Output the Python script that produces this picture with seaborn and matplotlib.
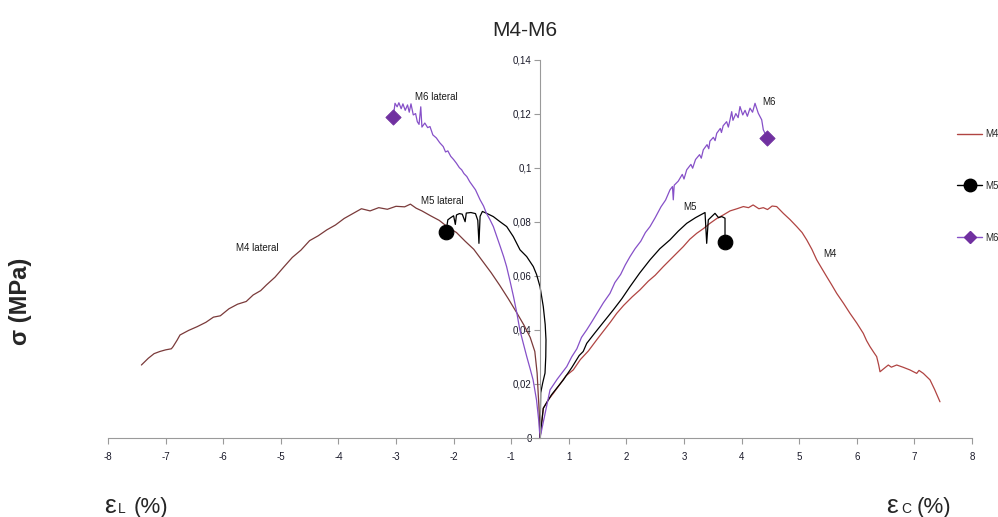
import matplotlib
matplotlib.use("Agg")
import matplotlib.pyplot as plt
from matplotlib.lines import Line2D
import seaborn as sns
import pandas as pd

sns.set_theme(style="white")
plt.rcParams['font.family'] = ['Liberation Sans', 'DejaVu Sans']

# ---------------- data (x in axis units, sigma in MPa) ----------------
m4_lat_x = [-6.92, -6.80, -6.70, -6.60, -6.50, -6.40, -6.37, -6.30, -6.25, -6.10, -5.95, -5.80, -5.67, -5.55,
            -5.40, -5.25, -5.10, -4.98, -4.85, -4.75, -4.60, -4.45, -4.30, -4.15, -4.00, -3.85, -3.70, -3.55,
            -3.40, -3.25, -3.10, -2.95, -2.80, -2.65, -2.50, -2.35, -2.25, -2.15, -2.05, -1.90, -1.75, -1.60,
            -1.45, -1.30, -1.15, -1.00, -0.85, -0.70, -0.55, -0.40, -0.28, -0.17, -0.09, -0.05, -0.02, 0.0]
m4_lat_y = [0.0270, 0.0295, 0.0312, 0.0320, 0.0326, 0.0330, 0.0338, 0.0362, 0.0381, 0.0398, 0.0412, 0.0428,
            0.0447, 0.0452, 0.0478, 0.0495, 0.0505, 0.0529, 0.0545, 0.0566, 0.0595, 0.0632, 0.0668, 0.0695,
            0.0730, 0.0748, 0.0770, 0.0788, 0.0812, 0.0830, 0.0848, 0.0840, 0.0852, 0.0846, 0.0857, 0.0855,
            0.0865, 0.0850, 0.0840, 0.0822, 0.0805, 0.0780, 0.0760, 0.0728, 0.0698, 0.0655, 0.0612, 0.0565,
            0.0515, 0.0462, 0.0418, 0.0372, 0.0320, 0.0240, 0.0120, 0.0]

m5_lat_x = [-1.632, -1.60, -1.55, -1.50, -1.47, -1.45, -1.40, -1.35, -1.30, -1.28, -1.20, -1.12, -1.08, -1.06,
            -1.04, -1.00, -0.926, -0.811, -0.694, -0.578, -0.464, -0.347, -0.231, -0.116, -0.06, 0.0, 0.057,
            0.09, 0.104, 0.10, 0.087, 0.047, 0.012, 0.0]
m5_lat_y = [0.0761, 0.0807, 0.0815, 0.0822, 0.0790, 0.0825, 0.0830, 0.0828, 0.0800, 0.0832, 0.0834, 0.0830,
            0.0805, 0.0720, 0.0820, 0.0838, 0.0831, 0.0819, 0.0800, 0.0782, 0.0745, 0.0696, 0.0671, 0.0634,
            0.0605, 0.0560, 0.0486, 0.0420, 0.0363, 0.0300, 0.0240, 0.0204, 0.0167, 0.0]

m6_lat_x = [-2.547, -2.517, -2.48, -2.45, -2.41, -2.38, -2.34, -2.30, -2.27, -2.24, -2.20, -2.16, -2.13, -2.10,
            -2.07, -2.05, -2.00, -1.95, -1.91, -1.86, -1.80, -1.74, -1.68, -1.64, -1.60, -1.55, -1.50, -1.45,
            -1.40, -1.36, -1.32, -1.27, -1.22, -1.16, -1.12, -1.04, -0.98, -0.93, -0.87, -0.81, -0.75, -0.69,
            -0.63, -0.58, -0.52, -0.46, -0.40, -0.35, -0.29, -0.23, -0.17, -0.12, -0.06, -0.02, 0.0]
m6_lat_y = [0.1187, 0.1238, 0.1225, 0.1240, 0.1218, 0.1236, 0.1212, 0.1232, 0.1205, 0.1236, 0.1195, 0.1200,
            0.1170, 0.1160, 0.1225, 0.1150, 0.1165, 0.1148, 0.1152, 0.1121, 0.1110, 0.1092, 0.1078, 0.1058,
            0.1062, 0.1042, 0.1030, 0.1016, 0.1000, 0.0992, 0.0978, 0.0967, 0.0948, 0.0930, 0.0918, 0.0881,
            0.0858, 0.0831, 0.0808, 0.0782, 0.0745, 0.0708, 0.0670, 0.0634, 0.0580, 0.0523, 0.0460, 0.0400,
            0.0350, 0.0301, 0.0255, 0.0215, 0.0140, 0.0060, 0.0]

m4_x = [0.0, 0.057, 0.14, 0.231, 0.35, 0.45, 0.578, 0.70, 0.84, 0.984, 1.10, 1.22, 1.332, 1.45, 1.60, 1.736,
        1.88, 2.00, 2.141, 2.30, 2.488, 2.60, 2.72, 2.84, 2.951, 3.07, 3.182, 3.30, 3.42, 3.53, 3.62, 3.70,
        3.80, 3.877, 3.95, 4.03, 4.109, 4.16, 4.224, 4.34, 4.457, 4.55, 4.63, 4.72, 4.804, 4.89, 4.977, 5.06,
        5.151, 5.27, 5.382, 5.50, 5.613, 5.67, 5.729, 5.80, 5.845, 5.88, 5.903, 5.96, 6.047, 6.10, 6.193,
        6.30, 6.42, 6.54, 6.58, 6.655, 6.771, 6.85, 6.944]
m4_y = [0.0, 0.0110, 0.0140, 0.0165, 0.0200, 0.0230, 0.0252, 0.0290, 0.0322, 0.0363, 0.0395, 0.0428, 0.0461,
        0.0490, 0.0522, 0.0548, 0.0580, 0.0602, 0.0634, 0.0668, 0.0708, 0.0735, 0.0757, 0.0775, 0.0794,
        0.0812, 0.0825, 0.0840, 0.0848, 0.0856, 0.0852, 0.0862, 0.0848, 0.0852, 0.0845, 0.0858, 0.0856,
        0.0845, 0.0831, 0.0808, 0.0782, 0.0760, 0.0733, 0.0698, 0.0659, 0.0628, 0.0597, 0.0568, 0.0535,
        0.0498, 0.0461, 0.0425, 0.0387, 0.0360, 0.0338, 0.0315, 0.0301, 0.0270, 0.0245, 0.0255, 0.0270,
        0.0262, 0.0270, 0.0262, 0.0252, 0.0239, 0.0250, 0.0239, 0.0215, 0.0180, 0.0134]

m5_x = [0.0, 0.057, 0.20, 0.405, 0.55, 0.68, 0.75, 0.811, 0.95, 1.10, 1.273, 1.42, 1.563, 1.73, 1.91, 2.08,
        2.257, 2.40, 2.547, 2.70, 2.865, 2.894, 2.922, 3.038, 3.10, 3.155, 3.212, 3.212]
m5_y = [0.0, 0.0110, 0.0160, 0.0215, 0.0260, 0.0305, 0.0320, 0.0350, 0.0388, 0.0428, 0.0474, 0.0515, 0.0560,
        0.0610, 0.0659, 0.0700, 0.0733, 0.0765, 0.0794, 0.0815, 0.0834, 0.0720, 0.0807, 0.0831, 0.0815,
        0.0819, 0.0813, 0.0726]

m6_pts = [(0.0, 0.0), (0.174, 0.0178), (0.30, 0.0218), (0.464, 0.0264), (0.55, 0.0300), (0.64, 0.0330),
          (0.72, 0.0372), (0.811, 0.0400), (0.90, 0.0430), (1.00, 0.0465), (1.10, 0.0500), (1.215, 0.0535),
          (1.30, 0.0575), (1.40, 0.0605), (1.48, 0.0640), (1.563, 0.0671), (1.65, 0.0700), (1.75, 0.0728),
          (1.83, 0.0760), (1.91, 0.0782), (2.00, 0.0815), (2.10, 0.0855), (2.18, 0.0880), (2.257, 0.0918),
          (2.30, 0.0930), (2.314, 0.0881), (2.33, 0.0935), (2.40, 0.0950), (2.47, 0.0975), (2.50, 0.0958),
          (2.547, 0.0992), (2.62, 0.1012), (2.65, 0.0998), (2.70, 0.1030), (2.77, 0.1048), (2.80, 0.1035),
          (2.835, 0.1066), (2.90, 0.1085), (2.93, 0.1070), (2.95, 0.1098), (3.01, 0.1112), (3.04, 0.1100),
          (3.068, 0.1127), (3.13, 0.1145), (3.15, 0.1130), (3.18, 0.1155), (3.24, 0.1170), (3.27, 0.1150),
          (3.299, 0.1177), (3.328, 0.1207), (3.35, 0.1175), (3.40, 0.1200), (3.44, 0.1185), (3.472, 0.1226),
          (3.52, 0.1195), (3.56, 0.1212), (3.60, 0.1190), (3.646, 0.1220), (3.69, 0.1205), (3.733, 0.1238),
          (3.790, 0.1201), (3.849, 0.1177), (3.877, 0.1140), (3.946, 0.1109)]
m6_x = [p[0] for p in m6_pts]
m6_y = [p[1] for p in m6_pts]

x_tick_pos = [-7.5, -6.5, -5.5, -4.5, -3.5, -2.5, -1.5, -0.5, 0.5, 1.5, 2.5, 3.5, 4.5, 5.5, 6.5, 7.5]
x_tick_labels = ['-8', '-7', '-6', '-5', '-4', '-3', '-2', '-1', '1', '2', '3', '4', '5', '6', '7', '8']
y_tick_pos = [0, 0.02, 0.04, 0.06, 0.08, 0.10, 0.12, 0.14]
y_tick_labels = ['0', '0,02', '0,04', '0,06', '0,08', '0,1', '0,12', '0,14']

labels = [("M6 lateral", -2.17, 0.1262), ("M5 lateral", -2.07, 0.0877), ("M4 lateral", -5.27, 0.0703),
          ("M6", 3.85, 0.1243), ("M5", 2.49, 0.0853), ("M4", 4.92, 0.0681)]

c_m4 = '#B04442'
c_m4_lat = '#7A3A3A'
c_m5 = '#000000'
c_m6 = '#8650C8'
c_m6_mk = '#7030A0'

# ---------------- figure ----------------
fig = plt.figure(figsize=(9.98, 5.17), dpi=100)
ax = fig.add_axes([108 / 998, 1 - 438 / 517, 864 / 998, (438 - 59.5) / 517])


def line(x, y, color):
    df = pd.DataFrame({"x": x, "y": y})
    sns.lineplot(data=df, x="x", y="y", sort=False, estimator=None, color=color, lw=0.9, ax=ax)


line(m4_lat_x, m4_lat_y, c_m4_lat)
line(m5_lat_x, m5_lat_y, c_m5)
line(m6_lat_x, m6_lat_y, c_m6)
line(m4_x, m4_y, c_m4)
line(m5_x, m5_y, c_m5)
line(m6_x, m6_y, c_m6)

# end markers
sns.scatterplot(x=[m5_lat_x[0], m5_x[-1]], y=[m5_lat_y[0], m5_y[-1]], marker='o', s=110,
                color=c_m5, edgecolor=c_m5, ax=ax, zorder=5)
sns.scatterplot(x=[m6_lat_x[0], m6_x[-1]], y=[m6_lat_y[0], m6_y[-1]], marker='D', s=60,
                color=c_m6_mk, edgecolor=c_m6_mk, ax=ax, zorder=5)

for txt, xx, yy in labels:
    ax.text(xx, yy, txt, fontsize=7, va='center', ha='left', color='#1a1a1a')

ax.set_xlim(-7.5, 7.5)
ax.set_ylim(0, 0.14)
ax.set_xticks(x_tick_pos)
ax.set_xticklabels(x_tick_labels, fontsize=7)
ax.set_yticks(y_tick_pos)
ax.set_yticklabels(y_tick_labels, fontsize=7)
ax.set_xlabel('')
ax.set_ylabel('')

for s in ['top', 'right']:
    ax.spines[s].set_visible(False)
ax.spines['left'].set_position(('data', 0))
ax.spines['left'].set_color('#9a9a9a')
ax.spines['bottom'].set_color('#9a9a9a')
ax.spines['left'].set_linewidth(0.8)
ax.spines['bottom'].set_linewidth(0.8)
ax.tick_params(axis='x', direction='out', length=4, width=0.8, color='#9a9a9a', pad=6, labelsize=7,
               labelcolor='#1a1a2a')
ax.tick_params(axis='y', direction='out', length=4, width=0.8, color='#9a9a9a', pad=2, labelsize=7,
               labelcolor='#1a1a2a')
ax.tick_params(bottom=True, left=True)
ax.grid(False)

# title and axis labels
fig.text(525 / 998, 1 - 30 / 517, 'M4-M6', fontsize=15, ha='center', va='center')
fig.text(21 / 998, 1 - 301 / 517, 'σ (MPa)', fontsize=17, fontweight='bold', rotation=90,
         ha='center', va='center')
fig.text(104 / 998, 1 - 513 / 517, 'ε', fontsize=19, ha='left', va='baseline')
fig.text(117.5 / 998, 1 - 513 / 517, 'L', fontsize=10, ha='left', va='baseline')
fig.text(134 / 998, 1 - 513 / 517, '(%)', fontsize=16, ha='left', va='baseline')
fig.text(886 / 998, 1 - 513 / 517, 'ε', fontsize=19, ha='left', va='baseline')
fig.text(901 / 998, 1 - 513 / 517, 'C', fontsize=10, ha='left', va='baseline')
fig.text(917 / 998, 1 - 513 / 517, '(%)', fontsize=16, ha='left', va='baseline')

# legend (partly cut by the figure edge as in the reference)
handles = [Line2D([0], [0], color=c_m4, lw=1.0),
           Line2D([0], [0], color=c_m5, lw=1.0, marker='o', markersize=9, markevery=[1]),
           Line2D([0], [0], color=c_m6, lw=1.0, marker='D', markersize=6.5,
                  markerfacecolor=c_m6_mk, markeredgecolor=c_m6_mk, markevery=[1])]
fig.legend(handles, ['M4', 'M5', 'M6'], loc='upper left', bbox_to_anchor=(957 / 998, 1 - 129 / 517),
           frameon=False, fontsize=7, handlelength=2.6, handletextpad=0.3, labelspacing=4.3,
           borderpad=0, borderaxespad=0)

fig.savefig('out.png', dpi=100)
